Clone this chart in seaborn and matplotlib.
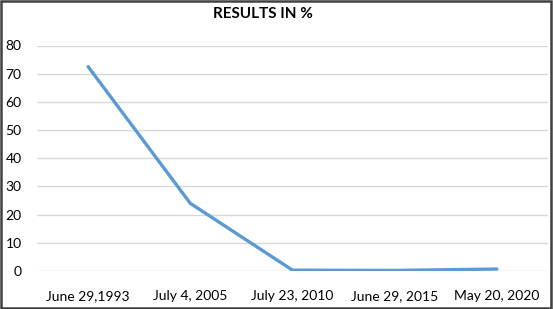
import matplotlib
matplotlib.use("Agg")
import matplotlib.pyplot as plt
import seaborn as sns
import pandas as pd
from matplotlib.patches import Rectangle

dates = ["June 29,1993", "July 4, 2005", "July 23, 2010", "June 29, 2015", "May 20, 2020"]
results = [72.5, 24.0, 0.3, 0.2, 0.7]

df = pd.DataFrame({"date": dates, "result": results})

sns.set_theme(style="white")
plt.rcParams['font.family'] = ['Lato', 'DejaVu Sans']

fig = plt.figure(figsize=(5.53, 3.09), dpi=100)
ax = fig.add_axes([37 / 553, 1 - 271 / 309, (548 - 37) / 553, (271 - 45.5) / 309])

sns.lineplot(data=df, x="date", y="result", ax=ax, color="#5B9BD5",
             linewidth=2.4, sort=False, solid_capstyle="round")

ax.set_xlim(-0.5, len(dates) - 0.5)
ax.set_ylim(0, 80)
ax.set_yticks(range(0, 81, 10))
ax.yaxis.grid(True, color="#D9D9D9", linewidth=1)
ax.set_axisbelow(True)
for s in ax.spines.values():
    s.set_visible(False)
ax.tick_params(axis="both", length=0, labelsize=10, colors="#000000")
ax.tick_params(axis="y", pad=11)
ax.tick_params(axis="x", pad=14)
ax.set_xlabel("")
ax.set_ylabel("")

fig.text(263 / 553, 1 - 14 / 309, "RESULTS IN %", ha="center", va="center",
         fontsize=11, fontweight="bold", color="#000000")

fig.patches.append(Rectangle((0.002, 0.003), 0.995, 0.994, transform=fig.transFigure,
                             fill=False, edgecolor="#404040", linewidth=1.8))

fig.savefig("out.png", dpi=100)
